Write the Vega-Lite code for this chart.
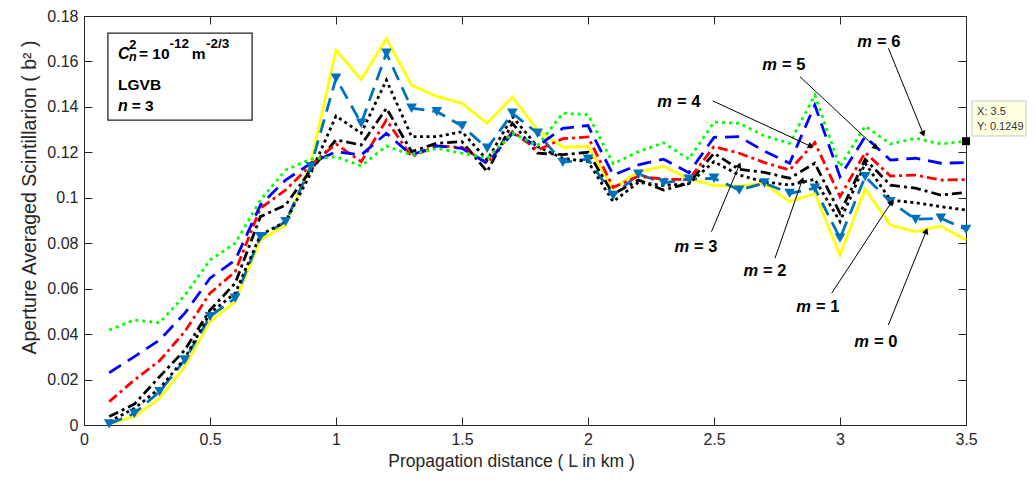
{
  "$schema": "https://vega.github.io/schema/vega-lite/v6.json",
  "width": 882,
  "height": 409,
  "autosize": {"type": "none"},
  "padding": {"left": 84, "top": 16, "right": 70, "bottom": 58},
  "background": "white",
  "config": {
    "font": "Liberation Sans",
    "view": {"stroke": "#262626", "strokeWidth": 1},
    "axis": {"grid": false, "domainColor": "#262626", "tickColor": "#262626", "labelColor": "#262626", "titleColor": "#262626", "labelFont": "Liberation Sans", "titleFont": "Liberation Sans", "labelFontSize": 16, "titleFontSize": 17.5, "titleFontWeight": "normal", "tickSize": -8, "labelFlush": false, "labelOverlap": false}
  },
  "datasets": {
    "curves": [
      {"L": 0.1, "m0": 0.0005, "m1": 0.0005, "m2": 0.0015, "m3": 0.0037, "m4": 0.0103, "m5": 0.0230, "m6": 0.0418},
      {"L": 0.2, "m0": 0.0037, "m1": 0.0051, "m2": 0.0073, "m3": 0.0092, "m4": 0.0198, "m5": 0.0301, "m6": 0.0462},
      {"L": 0.3, "m0": 0.0117, "m1": 0.0147, "m2": 0.0161, "m3": 0.0213, "m4": 0.0283, "m5": 0.0374, "m6": 0.0450},
      {"L": 0.4, "m0": 0.0257, "m1": 0.0286, "m2": 0.0293, "m3": 0.0330, "m4": 0.0411, "m5": 0.0492, "m6": 0.0570},
      {"L": 0.5, "m0": 0.0455, "m1": 0.0477, "m2": 0.0492, "m3": 0.0506, "m4": 0.0580, "m5": 0.0646, "m6": 0.0726},
      {"L": 0.6, "m0": 0.0543, "m1": 0.0558, "m2": 0.0580, "m3": 0.0624, "m4": 0.0675, "m5": 0.0726, "m6": 0.0800},
      {"L": 0.7, "m0": 0.0814, "m1": 0.0829, "m2": 0.0836, "m3": 0.0917, "m4": 0.0954, "m5": 0.0968, "m6": 0.0990},
      {"L": 0.8, "m0": 0.0880, "m1": 0.0895, "m2": 0.0895, "m3": 0.0968, "m4": 0.1034, "m5": 0.1078, "m6": 0.1122},
      {"L": 0.9, "m0": 0.1152, "m1": 0.1137, "m2": 0.1108, "m3": 0.1122, "m4": 0.1144, "m5": 0.1152, "m6": 0.1170},
      {"L": 1.0, "m0": 0.1650, "m1": 0.1526, "m2": 0.1360, "m3": 0.1255, "m4": 0.1237, "m5": 0.1203, "m6": 0.1181},
      {"L": 1.1, "m0": 0.1520, "m1": 0.1328, "m2": 0.1284, "m3": 0.1232, "m4": 0.1159, "m5": 0.1188, "m6": 0.1140},
      {"L": 1.2, "m0": 0.1700, "m1": 0.1636, "m2": 0.1518, "m3": 0.1394, "m4": 0.1342, "m5": 0.1284, "m6": 0.1228},
      {"L": 1.3, "m0": 0.1496, "m1": 0.1394, "m2": 0.1269, "m3": 0.1203, "m4": 0.1181, "m5": 0.1188, "m6": 0.1188},
      {"L": 1.4, "m0": 0.1446, "m1": 0.1379, "m2": 0.1269, "m3": 0.1240, "m4": 0.1228, "m5": 0.1228, "m6": 0.1218},
      {"L": 1.5, "m0": 0.1416, "m1": 0.1316, "m2": 0.1291, "m3": 0.1247, "m4": 0.1222, "m5": 0.1218, "m6": 0.1196},
      {"L": 1.6, "m0": 0.1328, "m1": 0.1218, "m2": 0.1166, "m3": 0.1115, "m4": 0.1152, "m5": 0.1152, "m6": 0.1174},
      {"L": 1.7, "m0": 0.1443, "m1": 0.1372, "m2": 0.1357, "m3": 0.1328, "m4": 0.1291, "m5": 0.1284, "m6": 0.1284},
      {"L": 1.8, "m0": 0.1298, "m1": 0.1284, "m2": 0.1225, "m3": 0.1196, "m4": 0.1210, "m5": 0.1228, "m6": 0.1230},
      {"L": 1.9, "m0": 0.1223, "m1": 0.1156, "m2": 0.1174, "m3": 0.1190, "m4": 0.1260, "m5": 0.1306, "m6": 0.1372},
      {"L": 2.0, "m0": 0.1226, "m1": 0.1170, "m2": 0.1159, "m3": 0.1200, "m4": 0.1268, "m5": 0.1318, "m6": 0.1366},
      {"L": 2.1, "m0": 0.1040, "m1": 0.1010, "m2": 0.0983, "m3": 0.1016, "m4": 0.1046, "m5": 0.1100, "m6": 0.1150},
      {"L": 2.2, "m0": 0.1115, "m1": 0.1104, "m2": 0.1068, "m3": 0.1078, "m4": 0.1095, "m5": 0.1145, "m6": 0.1203},
      {"L": 2.3, "m0": 0.1138, "m1": 0.1066, "m2": 0.1054, "m3": 0.1034, "m4": 0.1082, "m5": 0.1170, "m6": 0.1242},
      {"L": 2.4, "m0": 0.1084, "m1": 0.1082, "m2": 0.1062, "m3": 0.1064, "m4": 0.1080, "m5": 0.1110, "m6": 0.1170},
      {"L": 2.5, "m0": 0.1054, "m1": 0.1086, "m2": 0.1159, "m3": 0.1196, "m4": 0.1225, "m5": 0.1266, "m6": 0.1333},
      {"L": 2.6, "m0": 0.1052, "m1": 0.1034, "m2": 0.1100, "m3": 0.1125, "m4": 0.1196, "m5": 0.1269, "m6": 0.1328},
      {"L": 2.7, "m0": 0.1063, "m1": 0.1065, "m2": 0.1070, "m3": 0.1112, "m4": 0.1155, "m5": 0.1205, "m6": 0.1272},
      {"L": 2.8, "m0": 0.0983, "m1": 0.1019, "m2": 0.1056, "m3": 0.1086, "m4": 0.1122, "m5": 0.1152, "m6": 0.1240},
      {"L": 2.9, "m0": 0.1019, "m1": 0.1042, "m2": 0.1081, "m3": 0.1152, "m4": 0.1243, "m5": 0.1408, "m6": 0.1452},
      {"L": 3.0, "m0": 0.0748, "m1": 0.0822, "m2": 0.0895, "m3": 0.0932, "m4": 0.1005, "m5": 0.1093, "m6": 0.1137},
      {"L": 3.1, "m0": 0.1039, "m1": 0.1093, "m2": 0.1152, "m3": 0.1169, "m4": 0.1199, "m5": 0.1269, "m6": 0.1316},
      {"L": 3.2, "m0": 0.0880, "m1": 0.0983, "m2": 0.0990, "m3": 0.1056, "m4": 0.1096, "m5": 0.1166, "m6": 0.1237},
      {"L": 3.3, "m0": 0.0851, "m1": 0.0905, "m2": 0.0978, "m3": 0.1042, "m4": 0.1100, "m5": 0.1174, "m6": 0.1262},
      {"L": 3.4, "m0": 0.0876, "m1": 0.0910, "m2": 0.0961, "m3": 0.1012, "m4": 0.1078, "m5": 0.1152, "m6": 0.1237},
      {"L": 3.5, "m0": 0.0814, "m1": 0.0861, "m2": 0.0946, "m3": 0.1023, "m4": 0.1080, "m5": 0.1155, "m6": 0.1249}
    ],
    "labelsM": [
      {"x": 3.127, "y": 0.1664, "k": "= 6"},
      {"x": 2.750, "y": 0.1563, "k": "= 5"},
      {"x": 2.333, "y": 0.1400, "k": "= 4"},
      {"x": 2.401, "y": 0.0761, "k": "= 3"},
      {"x": 2.675, "y": 0.0656, "k": "= 2"},
      {"x": 2.885, "y": 0.0497, "k": "= 1"},
      {"x": 3.115, "y": 0.0343, "k": "= 0"}
    ],
    "arrows": [
      {"xs": 3.192, "ys": 0.1658, "xt": 3.329, "yt": 0.1285},
      {"xs": 2.841, "ys": 0.1533, "xt": 3.139, "yt": 0.1224},
      {"xs": 2.496, "ys": 0.1426, "xt": 2.881, "yt": 0.1228},
      {"xs": 2.490, "ys": 0.0851, "xt": 2.599, "yt": 0.1140},
      {"xs": 2.742, "ys": 0.0734, "xt": 2.849, "yt": 0.1074},
      {"xs": 2.967, "ys": 0.0580, "xt": 3.202, "yt": 0.0977},
      {"xs": 3.192, "ys": 0.0440, "xt": 3.341, "yt": 0.0850}
    ]
  },
  "layer": [
    {
      "data": {"name": "curves"},
      "transform": [{"fold": ["m0", "m1", "m2", "m3", "m4", "m5", "m6"], "as": ["series", "value"]}],
      "mark": {"type": "line", "strokeWidth": 2.8},
      "encoding": {
        "x": {"field": "L", "type": "quantitative", "scale": {"domain": [0, 3.5], "nice": false, "zero": false},
          "axis": {"orient": "bottom", "values": [0, 0.5, 1, 1.5, 2, 2.5, 3, 3.5], "format": "~g", "labelPadding": 14, "title": "Propagation distance ( L in km )", "titlePadding": 5, "titleX": 427}},
        "y": {"field": "value", "type": "quantitative", "scale": {"domain": [0, 0.18], "nice": false},
          "axis": {"orient": "left", "values": [0, 0.02, 0.04, 0.06, 0.08, 0.1, 0.12, 0.14, 0.16, 0.18], "format": "~g", "labelPadding": 14, "title": "Aperture Averaged Scintillarion ( b² )", "titleFontSize": 19.5, "titlePadding": 7, "titleY": 181}},
        "color": {"field": "series", "type": "nominal", "legend": null,
          "scale": {"domain": ["m0", "m1", "m2", "m3", "m4", "m5", "m6"], "range": ["#FFFF00", "#0072BD", "#000000", "#000000", "#FF0000", "#0000FF", "#00FF00"]}},
        "strokeDash": {"field": "series", "type": "nominal", "legend": null,
          "scale": {"domain": ["m0", "m1", "m2", "m3", "m4", "m5", "m6"], "range": [[1, 0], [14, 8], [3, 3.5], [10, 4, 3, 4], [10, 4, 3, 4], [14, 8], [3, 4]]}}
      }
    },
    {
      "data": {"name": "curves"},
      "mark": {"type": "point", "shape": "triangle-down", "filled": true, "color": "#0072BD", "size": 115, "opacity": 1},
      "encoding": {
        "x": {"field": "L", "type": "quantitative", "axis": {"orient": "top", "values": [0, 0.5, 1, 1.5, 2, 2.5, 3, 3.5], "labels": false, "title": null}},
        "y": {"field": "m1", "type": "quantitative", "axis": {"orient": "right", "values": [0, 0.02, 0.04, 0.06, 0.08, 0.1, 0.12, 0.14, 0.16, 0.18], "labels": false, "title": null}}
      }
    },
    {
      "data": {"values": [{"x1": 0.095, "x2": 0.667, "y1": 0.1342, "y2": 0.1725}]},
      "mark": {"type": "rect", "fill": "white", "stroke": "#262626", "strokeWidth": 1.3},
      "encoding": {
        "x": {"field": "x1", "type": "quantitative", "axis": null},
        "x2": {"field": "x2"},
        "y": {"field": "y1", "type": "quantitative", "axis": null},
        "y2": {"field": "y2"}
      }
    },
    {
      "data": {"values": [{"x": 0.135, "y": 0.161, "t": "C"}, {"x": 0.135, "y": 0.1383, "t": "n"}]},
      "mark": {"type": "text", "align": "left", "baseline": "alphabetic", "fontSize": 16, "fontWeight": "bold", "fontStyle": "italic", "color": "#000000"},
      "encoding": {"x": {"field": "x", "type": "quantitative", "axis": null}, "y": {"field": "y", "type": "quantitative", "axis": null}, "text": {"field": "t"}}
    },
    {
      "data": {"values": [{"x": 0.2183, "y": 0.161, "t": "= 10"}, {"x": 0.4274, "y": 0.161, "t": "m"}, {"x": 0.135, "y": 0.1474, "t": "LGVB"}, {"x": 0.189, "y": 0.1383, "t": "= 3"}]},
      "mark": {"type": "text", "align": "left", "baseline": "alphabetic", "fontSize": 15.5, "fontWeight": "bold", "color": "#000000"},
      "encoding": {"x": {"field": "x", "type": "quantitative", "axis": null}, "y": {"field": "y", "type": "quantitative", "axis": null}, "text": {"field": "t"}}
    },
    {
      "data": {"values": [{"x": 0.1786, "y": 0.1655, "t": "2"}, {"x": 0.339, "y": 0.1660, "t": "-12"}, {"x": 0.484, "y": 0.1660, "t": "-2/3"}]},
      "mark": {"type": "text", "align": "left", "baseline": "alphabetic", "fontSize": 13.5, "fontWeight": "bold", "color": "#000000"},
      "encoding": {"x": {"field": "x", "type": "quantitative", "axis": null}, "y": {"field": "y", "type": "quantitative", "axis": null}, "text": {"field": "t"}}
    },
    {
      "data": {"values": [{"x": 0.1786, "y": 0.1600, "t": "n"}]},
      "mark": {"type": "text", "align": "left", "baseline": "alphabetic", "fontSize": 12.5, "fontWeight": "bold", "fontStyle": "italic", "color": "#000000"},
      "encoding": {"x": {"field": "x", "type": "quantitative", "axis": null}, "y": {"field": "y", "type": "quantitative", "axis": null}, "text": {"field": "t"}}
    },
    {
      "data": {"name": "arrows"},
      "mark": {"type": "rule", "color": "#000000", "strokeWidth": 1},
      "encoding": {"x": {"field": "xs", "type": "quantitative", "axis": null}, "y": {"field": "ys", "type": "quantitative", "axis": null}, "x2": {"field": "xt"}, "y2": {"field": "yt"}}
    },
    {
      "data": {"name": "arrows"},
      "transform": [{"calculate": "atan2((datum.xt - datum.xs) * 252, (datum.yt - datum.ys) * 2272) * 180 / PI", "as": "ang"}],
      "mark": {"type": "point", "shape": "triangle", "filled": true, "color": "#000000", "size": 45, "opacity": 1},
      "encoding": {"x": {"field": "xt", "type": "quantitative", "axis": null}, "y": {"field": "yt", "type": "quantitative", "axis": null}, "angle": {"field": "ang", "type": "quantitative", "scale": null}}
    },
    {
      "data": {"name": "labelsM"},
      "mark": {"type": "text", "align": "right", "baseline": "alphabetic", "fontSize": 16.5, "fontWeight": "bold", "fontStyle": "italic", "color": "#000000", "text": "m"},
      "encoding": {"x": {"field": "x", "type": "quantitative", "axis": null}, "y": {"field": "y", "type": "quantitative", "axis": null}}
    },
    {
      "data": {"name": "labelsM"},
      "mark": {"type": "text", "align": "left", "baseline": "alphabetic", "fontSize": 16.5, "fontWeight": "bold", "color": "#000000", "dx": 5},
      "encoding": {"x": {"field": "x", "type": "quantitative", "axis": null}, "y": {"field": "y", "type": "quantitative", "axis": null}, "text": {"field": "k"}}
    },
    {
      "data": {"values": [{"x1": 3.524, "x2": 3.738, "y1": 0.1426, "y2": 0.1272}]},
      "mark": {"type": "rect", "fill": "#FFFFE1", "stroke": "#C8C8C8", "strokeWidth": 1, "clip": false},
      "encoding": {
        "x": {"field": "x1", "type": "quantitative", "axis": null},
        "x2": {"field": "x2"},
        "y": {"field": "y1", "type": "quantitative", "axis": null},
        "y2": {"field": "y2"}
      }
    },
    {
      "data": {"values": [{"x": 3.544, "y": 0.1364, "t": "X: 3.5"}, {"x": 3.544, "y": 0.1300, "t": "Y: 0.1249"}]},
      "mark": {"type": "text", "align": "left", "baseline": "alphabetic", "fontSize": 11, "color": "#333333"},
      "encoding": {"x": {"field": "x", "type": "quantitative", "axis": null}, "y": {"field": "y", "type": "quantitative", "axis": null}, "text": {"field": "t"}}
    },
    {
      "data": {"values": [{"x": 3.5, "y": 0.1249}]},
      "mark": {"type": "point", "shape": "square", "filled": true, "color": "#000000", "size": 64, "opacity": 1},
      "encoding": {"x": {"field": "x", "type": "quantitative", "axis": null}, "y": {"field": "y", "type": "quantitative", "axis": null}}
    }
  ],
  "resolve": {"axis": {"x": "independent", "y": "independent"}}
}
